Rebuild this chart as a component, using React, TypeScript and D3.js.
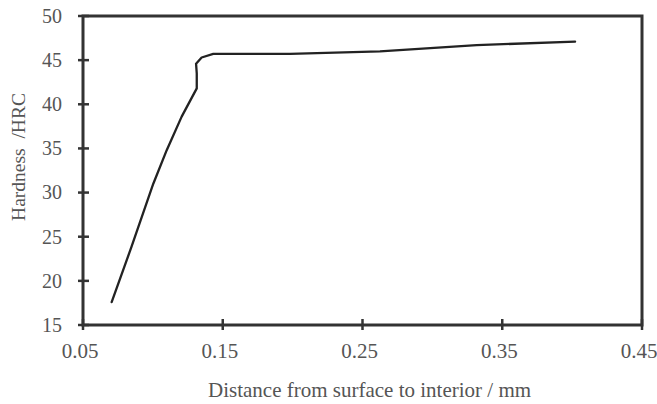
import React, { useEffect, useRef } from 'react';
import * as d3 from 'd3';

// distance from surface (mm) and hardness (HRC)
const distance = [0.0705, 0.0848, 0.1003, 0.1099, 0.1206, 0.1314, 0.1314, 0.1309, 0.1349, 0.1432, 0.1981, 0.2625, 0.3317, 0.4021];
const hardness = [17.6, 23.9, 31.0, 34.8, 38.6, 41.8, 43.5, 44.6, 45.3, 45.7, 45.7, 46.0, 46.7, 47.1];
const xTicks = [0.05, 0.15, 0.25, 0.35, 0.45];
const yTicks = [15, 20, 25, 30, 35, 40, 45, 50];

const App = () => {
  const svgRef = useRef<SVGSVGElement>(null);

  useEffect(() => {
    const svg = d3.select(svgRef.current);
    svg.selectAll('*').remove();

    const margin = { top: 16, right: 15, bottom: 79, left: 83 };
    const width = 657 - margin.left - margin.right;
    const height = 404 - margin.top - margin.bottom;
    const font = '"Liberation Serif", "Times New Roman", serif';
    const axisColor = '#333';
    const textColor = '#555';

    const x = d3.scaleLinear().domain([0.05, 0.45]).range([0, width]);
    const y = d3.scaleLinear().domain([15, 50]).range([height, 0]);

    const g = svg.append('g').attr('transform', `translate(${margin.left},${margin.top})`);

    // frame
    g.append('rect')
      .attr('width', width)
      .attr('height', height)
      .attr('fill', 'none')
      .attr('stroke', axisColor)
      .attr('stroke-width', 3);

    // ticks crossing the axes
    g.selectAll('.ytick')
      .data(yTicks)
      .enter()
      .append('line')
      .attr('x1', -5)
      .attr('x2', 6)
      .attr('y1', d => y(d))
      .attr('y2', d => y(d))
      .attr('stroke', axisColor)
      .attr('stroke-width', 2.5);

    g.selectAll('.xtick')
      .data(xTicks)
      .enter()
      .append('line')
      .attr('x1', d => x(d))
      .attr('x2', d => x(d))
      .attr('y1', height - 6)
      .attr('y2', height + 5)
      .attr('stroke', axisColor)
      .attr('stroke-width', 2.5);

    g.selectAll('.ylabel')
      .data(yTicks)
      .enter()
      .append('text')
      .attr('x', -21)
      .attr('y', d => y(d))
      .attr('dy', '0.34em')
      .attr('text-anchor', 'end')
      .style('font-family', font)
      .style('font-size', '20px')
      .style('fill', textColor)
      .text(d => d);

    g.selectAll('.xlabel')
      .data(xTicks)
      .enter()
      .append('text')
      .attr('x', d => x(d) - 3)
      .attr('y', 358 - margin.top)
      .attr('text-anchor', 'middle')
      .style('font-family', font)
      .style('font-size', '21px')
      .style('fill', textColor)
      .text(d => d3.format('.2f')(d));

    const points = distance.map((d, i) => [d, hardness[i]] as [number, number]);
    const line = d3.line<[number, number]>()
      .x(d => x(d[0]))
      .y(d => y(d[1]))
      .curve(d3.curveLinear);

    g.append('path')
      .datum(points)
      .attr('fill', 'none')
      .attr('stroke', '#222')
      .attr('stroke-width', 2.3)
      .attr('stroke-linejoin', 'round')
      .attr('stroke-linecap', 'round')
      .attr('d', line);

    svg.append('text')
      .attr('x', 208)
      .attr('y', 397)
      .attr('text-anchor', 'start')
      .style('font-family', font)
      .style('font-size', '21px')
      .style('fill', textColor)
      .text('Distance from surface to interior / mm');

    svg.append('text')
      .attr('transform', `translate(25, ${margin.top + 141}) rotate(-90)`)
      .attr('text-anchor', 'middle')
      .style('font-family', font)
      .style('font-size', '19.5px')
      .style('fill', textColor)
      .style('white-space', 'pre')
      .text('Hardness  /HRC');
  }, []);

  return <svg ref={svgRef} width={657} height={404} style={{ position: 'absolute', left: 0, top: 0 }}></svg>;
};

export default App;
